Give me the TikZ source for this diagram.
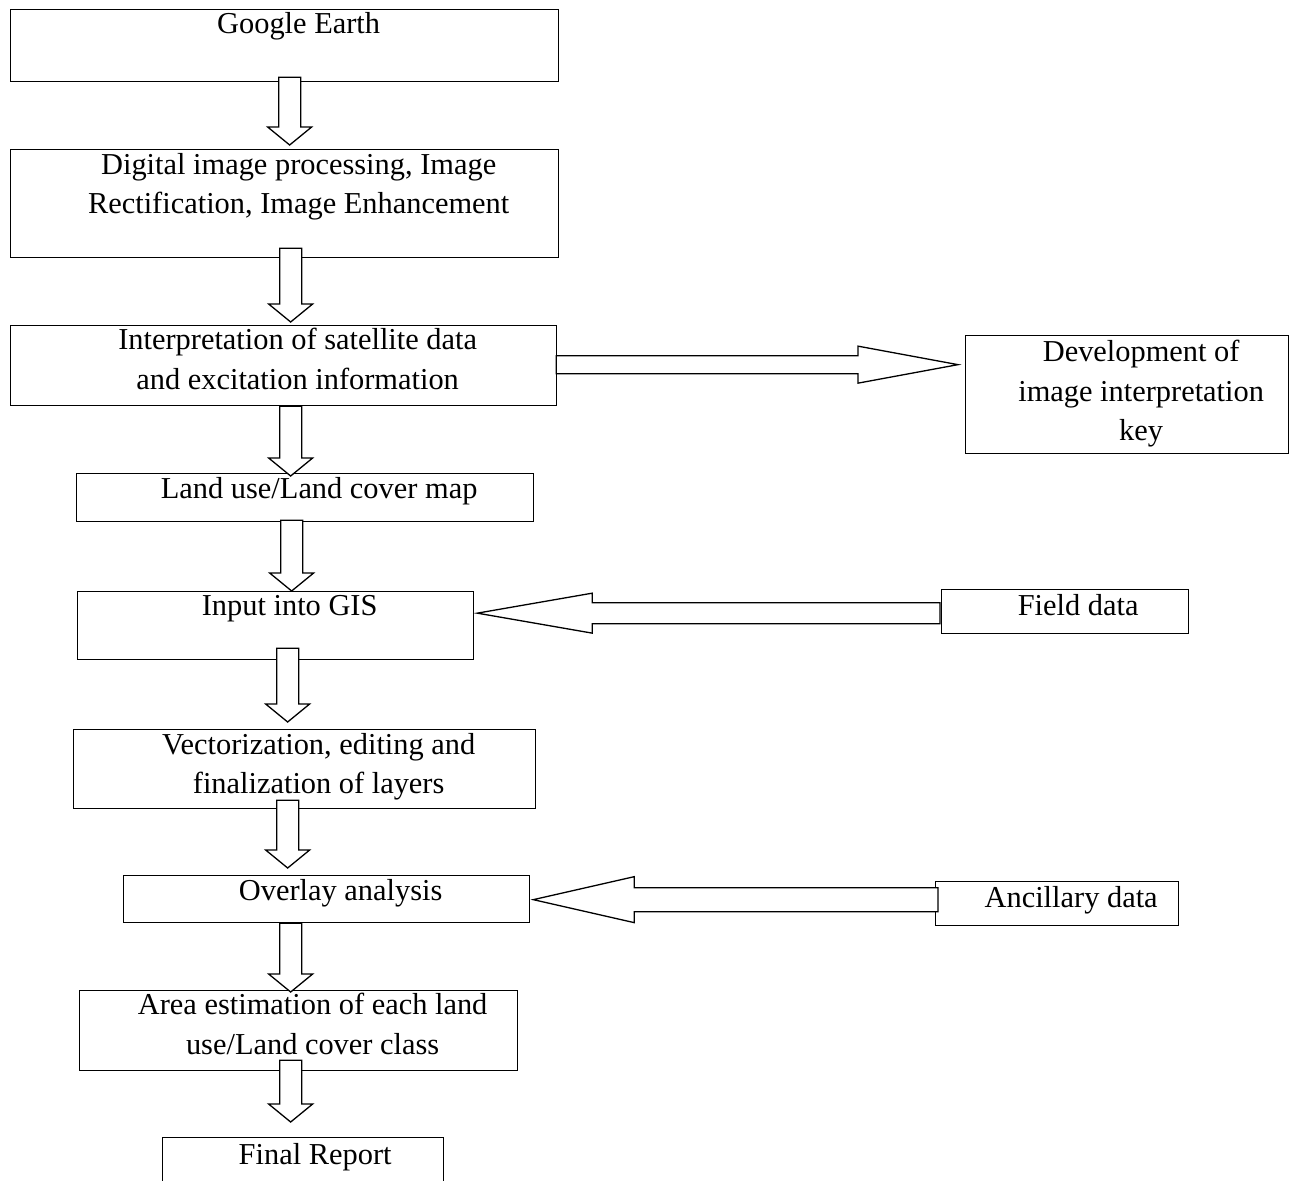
\documentclass[tikz,border=0pt]{standalone}
\usepackage{fontspec}
\setmainfont{Liberation Serif}
\usetikzlibrary{calc}

\tikzset{
  box/.style={draw, line width=1.3pt, anchor=north west, inner sep=0pt},
  txt/.style={anchor=north, align=center, inner sep=0pt, font=\fontsize{30.4}{39.5}\selectfont},
  hollow/.style={draw, fill=white, line width=1.3pt, line join=miter},
  block/.style n args={3}{to path={let \p1=(\tikztostart), \p2=(\tikztotarget), \p3=($(\p2)!#3!(\p1)$) in
    ($(\p1)!#1!90:(\p2)$) -- ($(\p3)!#1!90:(\p2)$) -- ($(\p3)!#2!90:(\p2)$) -- (\p2)
    -- ($(\p3)!#2!-90:(\p2)$) -- ($(\p3)!#1!-90:(\p2)$) -- ($(\p1)!#1!-90:(\p2)$) -- cycle}},
  downblock/.style={block={11pt}{22pt}{18pt}}
}

\begin{document}
\begin{tikzpicture}[x=1pt, y=-1pt]
  \useasboundingbox (0,0) rectangle (1295,1180);
  % Main column of boxes
  \node[box, minimum width=548pt, minimum height=72pt] (ge) at (10,9) {};
  \node[box, minimum width=548pt, minimum height=108pt] (dip) at (10,149) {};
  \node[box, minimum width=546pt, minimum height=80pt] (int) at (10,325) {};
  \node[box, minimum width=457pt, minimum height=48pt] (luc) at (76,473) {};
  \node[box, minimum width=396pt, minimum height=68pt] (gis) at (77,591) {};
  \node[box, minimum width=462pt, minimum height=79pt] (vec) at (73,729) {};
  \node[box, minimum width=406pt, minimum height=47pt] (ovl) at (123,875) {};
  \node[box, minimum width=438pt, minimum height=80pt] (area) at (79,990) {};
  \node[box, minimum width=281pt, minimum height=80pt] (fin) at (162,1137) {};
  % Side boxes
  \node[box, minimum width=323pt, minimum height=118pt] (dev) at (965,335) {};
  \node[box, minimum width=247pt, minimum height=44pt] (fld) at (941,589) {};
  \node[box, minimum width=243pt, minimum height=44pt] (anc) at (935,881) {};
  % Box texts
  \node[txt] (ge-t) at ([xshift=14pt,yshift=-3pt]ge.north) {Google Earth};
  \node[txt] (dip-t) at ([xshift=14pt,yshift=-4pt]dip.north) {Digital image processing, Image\\Rectification, Image Enhancement};
  \node[txt] (int-t) at ([xshift=14pt,yshift=-3pt]int.north) {Interpretation of satellite data\\and excitation information};
  \node[txt] (luc-t) at ([xshift=14pt,yshift=-4pt]luc.north) {Land use/Land cover map};
  \node[txt] (gis-t) at ([xshift=14pt,yshift=-4pt]gis.north) {Input into GIS};
  \node[txt] (vec-t) at ([xshift=14pt,yshift=-4pt]vec.north) {Vectorization, editing and\\finalization of layers};
  \node[txt] (ovl-t) at ([xshift=14pt,yshift=-4pt]ovl.north) {Overlay analysis};
  \node[txt] (area-t) at ([xshift=14pt,yshift=-3pt]area.north) {Area estimation of each land\\use/Land cover class};
  \node[txt] (fin-t) at ([xshift=12pt,yshift=-6pt]fin.north) {Final Report};
  \node[txt] (dev-t) at ([xshift=14pt,yshift=-5pt]dev.north) {Development of\\image interpretation\\key};
  \node[txt] (fld-t) at ([xshift=13pt,yshift=-5pt]fld.north) {Field data};
  \node[txt] (anc-t) at ([xshift=14pt,yshift=-5pt]anc.north) {Ancillary data};
  % Downward block arrows
  \draw[hollow, downblock] ([xshift=5pt,yshift=5pt]ge.south) to ([xshift=5pt,yshift=4pt]dip.north);
  \draw[hollow, downblock] ([xshift=6pt,yshift=10pt]dip.south) to ([xshift=7pt,yshift=3pt]int.north);
  \draw[hollow, downblock] ([xshift=7pt]int.south) to ([xshift=-14.5pt,yshift=-3pt]luc.north);
  \draw[hollow, downblock] ([xshift=-13.5pt,yshift=2pt]luc.south) to ([xshift=16pt]gis.north);
  \draw[hollow, downblock] ([xshift=12pt,yshift=12pt]gis.south) to ([xshift=-17pt,yshift=7pt]vec.north);
  \draw[hollow, downblock] ([xshift=-17pt,yshift=9pt]vec.south) to ([xshift=-39pt,yshift=7pt]ovl.north);
  \draw[hollow, downblock] ([xshift=-36pt]ovl.south) to ([xshift=-8pt,yshift=-2pt]area.north);
  \draw[hollow, downblock] ([xshift=-8pt,yshift=11pt]area.south) to ([xshift=-12.5pt,yshift=15pt]fin.north);
  % Side block arrows
  \draw[hollow, block={9pt}{18.5pt}{100pt}] ([xshift=-1pt,yshift=1pt]int.east) to ([xshift=-7pt,yshift=30pt]dev.west);
  \draw[hollow, block={10.5pt}{20pt}{115pt}] ([xshift=-1pt,yshift=-1.5pt]fld.west) to ([xshift=3pt,yshift=12.5pt]gis.east);
  \draw[hollow, block={12pt}{23pt}{101pt}] ([xshift=3pt,yshift=4pt]anc.west) to ([xshift=3pt,yshift=-0.5pt]ovl.east);
\end{tikzpicture}
\end{document}
